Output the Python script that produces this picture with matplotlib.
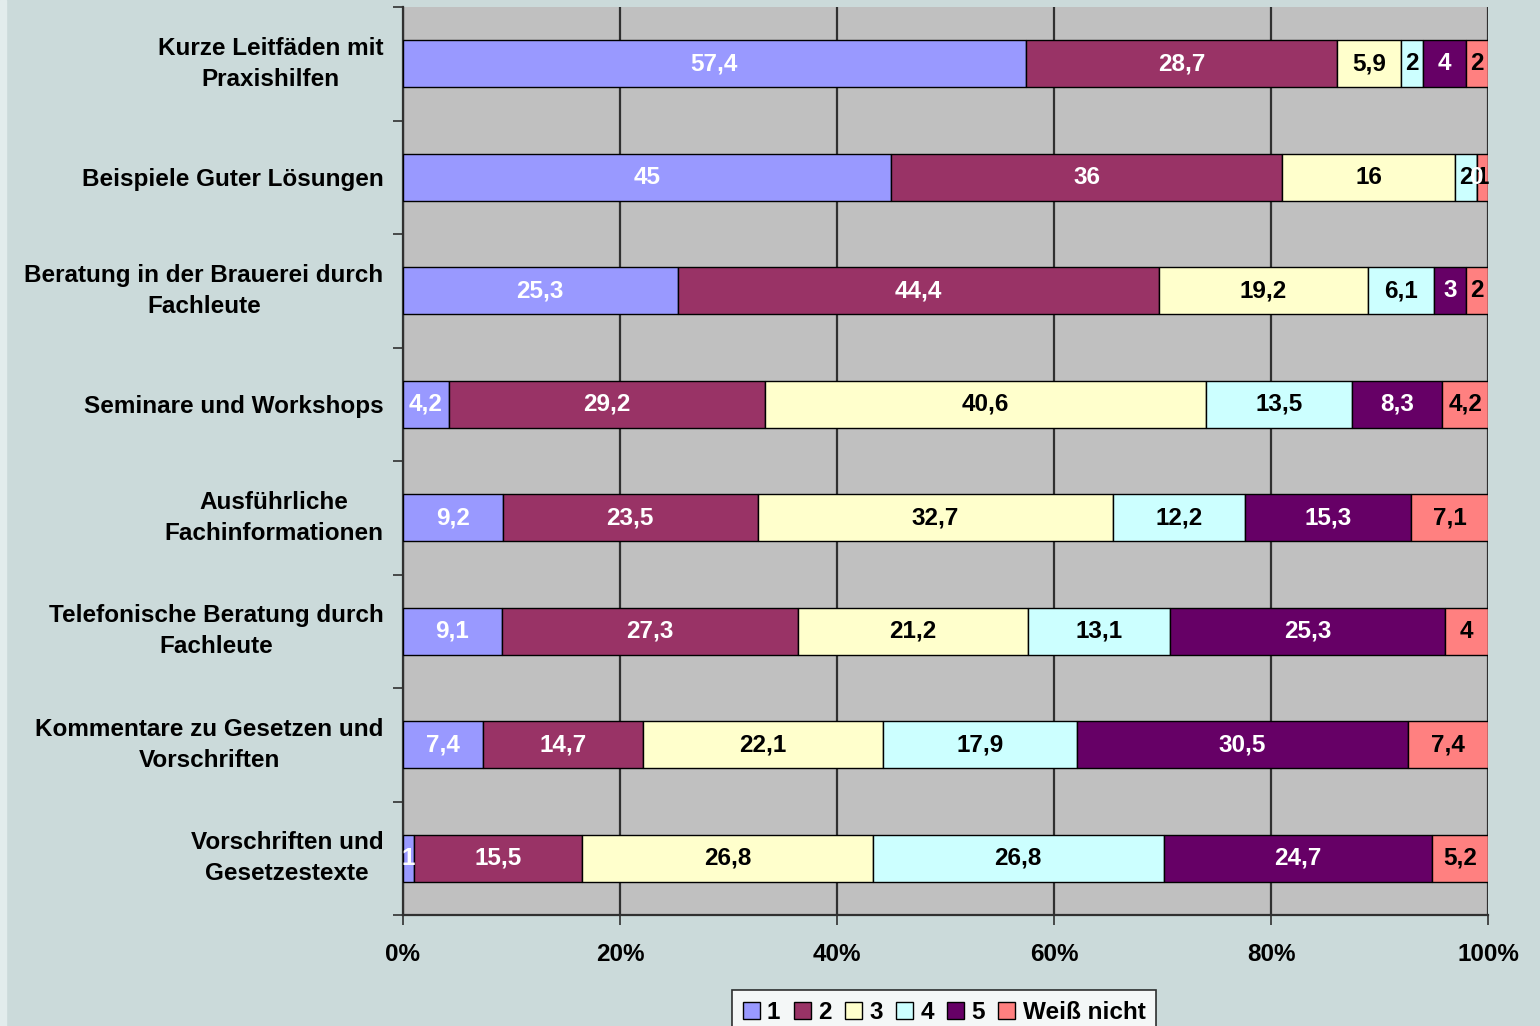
import matplotlib
import matplotlib.pyplot as plt
from matplotlib.patches import Rectangle

matplotlib.pyplot.switch_backend("Agg")

plt.rcParams["font.family"] = ["Liberation Sans", "DejaVu Sans"]
plt.rcParams["font.weight"] = "bold"

categories = [
    "Kurze Leitfäden mit\nPraxishilfen",
    "Beispiele Guter Lösungen",
    "Beratung in der Brauerei durch\nFachleute",
    "Seminare und Workshops",
    "Ausführliche\nFachinformationen",
    "Telefonische Beratung durch\nFachleute",
    "Kommentare zu Gesetzen und\nVorschriften",
    "Vorschriften und\nGesetzestexte",
]

series_names = ["1", "2", "3", "4", "5", "Weiß nicht"]
s1 = [57.4, 45, 25.3, 4.2, 9.2, 9.1, 7.4, 1]
s2 = [28.7, 36, 44.4, 29.2, 23.5, 27.3, 14.7, 15.5]
s3 = [5.9, 16, 19.2, 40.6, 32.7, 21.2, 22.1, 26.8]
s4 = [2, 2, 6.1, 13.5, 12.2, 13.1, 17.9, 26.8]
s5 = [4, 0, 3, 8.3, 15.3, 25.3, 30.5, 24.7]
s6 = [2, 1, 2, 4.2, 7.1, 4, 7.4, 5.2]
series = [s1, s2, s3, s4, s5, s6]

colors = ["#9999FF", "#993366", "#FFFFCC", "#CCFFFF", "#660066", "#FF8080"]
text_colors = ["white", "white", "black", "black", "white", "black"]

FS = 17.5


def fmt(v):
    if float(v).is_integer():
        return str(int(v))
    return f"{v:.1f}".replace(".", ",")


fig = plt.figure(figsize=(15.4, 10.26), dpi=100)
fig.patch.set_facecolor("#CBDADA")
fig.add_artist(Rectangle((0, 0), 6 / 1540, 1, transform=fig.transFigure,
                         color="#E2ECEC", zorder=0))

ax = fig.add_axes([403 / 1540, 1 - 915 / 1026, 1085 / 1540, 908 / 1026])
ax.set_facecolor("#C0C0C0")

n = len(categories)
ypos = list(range(n))
left = [0.0] * n
for i, vals in enumerate(series):
    ax.barh(ypos, vals, left=left, height=0.41, color=colors[i],
            edgecolor="black", linewidth=1.0, label=series_names[i], zorder=3)
    for j, v in enumerate(vals):
        # the zero label sits on top, as in the original
        z = 5 if v == 0 else 4
        ax.text(left[j] + v / 2, j, fmt(v), ha="center", va="center",
                color=text_colors[i], fontsize=FS, fontweight="bold", zorder=z)
    left = [a + b for a, b in zip(left, vals)]

ax.set_xlim(0, 100)
ax.set_ylim(n - 0.5, -0.5)
ax.set_xticks([0, 20, 40, 60, 80, 100])
ax.set_xticklabels(["0%", "20%", "40%", "60%", "80%", "100%"],
                   fontsize=FS, fontweight="bold")
ax.xaxis.grid(True, color="#303030", linewidth=1.6, zorder=1)
ax.set_axisbelow(True)

ax.set_yticks(ypos)
ax.set_yticklabels(categories, fontsize=FS, fontweight="bold",
                   multialignment="center", linespacing=1.45)
for lbl in ax.get_yticklabels():
    if "\n" in lbl.get_text():
        lbl.set_va("center")
ax.set_yticks([k + 0.5 for k in range(-1, n)], minor=True)
ax.tick_params(axis="y", which="major", length=0, pad=14)
ax.tick_params(axis="y", which="minor", length=7, width=1.2, color="#303030",
               direction="out")
ax.tick_params(axis="x", length=7, width=1.2, color="#303030", pad=13)

for side in ["top", "right"]:
    ax.spines[side].set_visible(False)
ax.spines["left"].set_color("#303030")
ax.spines["left"].set_linewidth(1.6)
ax.spines["bottom"].set_color("#303030")
ax.spines["bottom"].set_linewidth(1.6)

leg = fig.legend(loc="upper center", bbox_to_anchor=(944 / 1540, 1 - 990 / 1026),
                 ncol=6, fontsize=FS, frameon=True, fancybox=False,
                 handlelength=0.7, handleheight=0.7, handletextpad=0.3,
                 columnspacing=0.55, borderpad=0.45, borderaxespad=0)
leg.get_frame().set_edgecolor("black")
leg.get_frame().set_linewidth(1.2)
leg.get_frame().set_facecolor("white")

fig.savefig("out.png", dpi=100, facecolor=fig.get_facecolor())
